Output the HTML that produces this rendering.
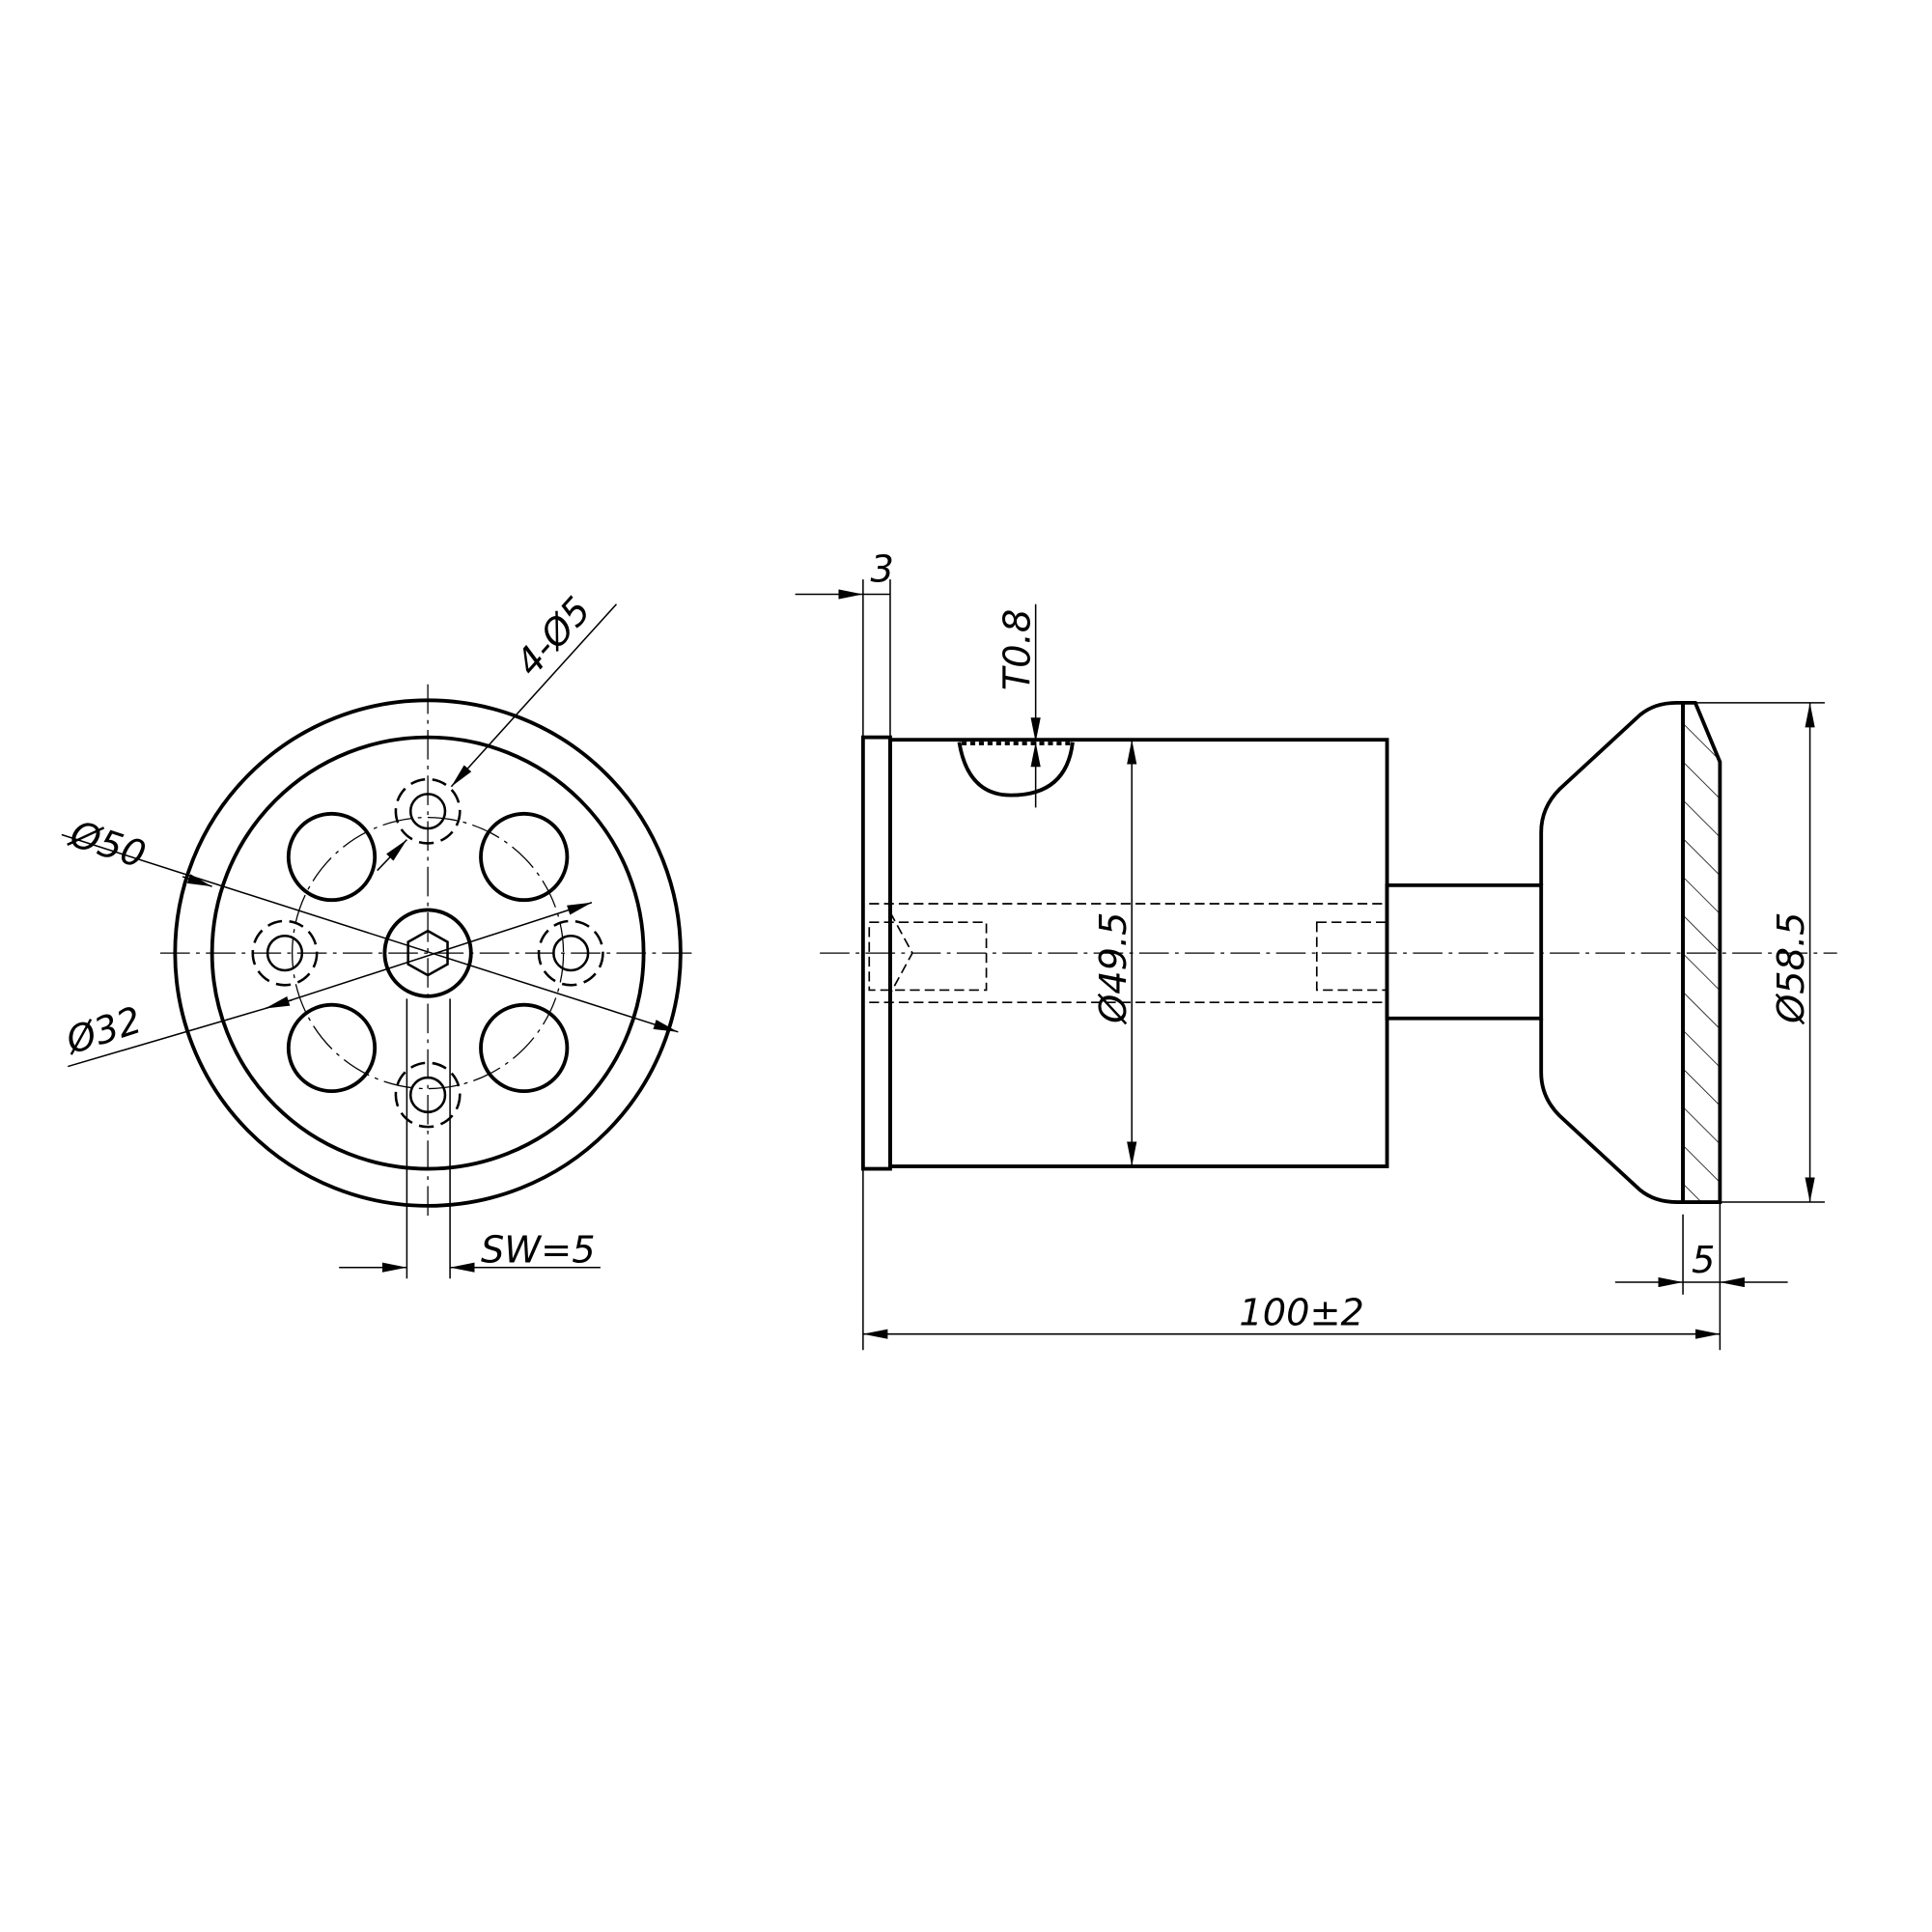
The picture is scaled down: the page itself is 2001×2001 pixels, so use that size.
<!DOCTYPE html>
<html><head><meta charset="utf-8"><style>
html,body{margin:0;padding:0;background:#fff;}
svg{display:block;}
text{font-family:"DejaVu Sans","Liberation Sans",sans-serif;font-style:italic;font-size:30px;fill:#000;}
</style></head><body>
<svg width="2001" height="2001" viewBox="0 0 1567 1567" xmlns="http://www.w3.org/2000/svg">
<defs>
<marker id="a" viewBox="0 0 20 8" refX="20" refY="4" markerWidth="20" markerHeight="8" orient="auto-start-reverse" markerUnits="userSpaceOnUse"><path d="M0,0L20,4L0,8z" fill="#000"/></marker>
<pattern id="h" width="22" height="22" patternUnits="userSpaceOnUse" patternTransform="rotate(-45)"><line x1="0" y1="0" x2="0" y2="22" stroke="#000" stroke-width="1.2"/></pattern>
</defs>
<g fill="none" stroke="#000">
<g stroke-width="1" stroke-dasharray="24,5,3,5">
<line x1="130" y1="773" x2="565" y2="773"/>
<line x1="347" y1="555" x2="347" y2="990"/>
<circle cx="347" cy="773" r="110"/>
</g>
<circle cx="347" cy="773" r="205" stroke-width="3"/>
<circle cx="347" cy="773" r="175" stroke-width="3"/>
<circle cx="347" cy="773" r="35" stroke-width="3"/>
<polygon points="347,755 363,764 363,782 347,791 331,782 331,764" stroke-width="2"/>
<g stroke-width="3">
<circle cx="269" cy="695" r="35"/><circle cx="425" cy="695" r="35"/>
<circle cx="269" cy="850" r="35"/><circle cx="425" cy="850" r="35"/>
</g>
<g stroke-width="2">
<circle cx="347" cy="658" r="14"/><circle cx="231" cy="773" r="14"/>
<circle cx="463" cy="773" r="14"/><circle cx="347" cy="888" r="14"/>
</g>
<g stroke-width="2" stroke-dasharray="12,6">
<circle cx="347" cy="658" r="26"/><circle cx="231" cy="773" r="26"/>
<circle cx="463" cy="773" r="26"/><circle cx="347" cy="888" r="26"/>
</g>
<g stroke-width="1.2">
<line x1="330" y1="810" x2="330" y2="1037"/>
<line x1="365" y1="810" x2="365" y2="1037"/>
<line x1="275" y1="1028" x2="330" y2="1028" marker-end="url(#a)"/>
<line x1="487" y1="1028" x2="365" y2="1028" marker-end="url(#a)"/>
<line x1="50" y1="677" x2="550" y2="837" marker-end="url(#a)"/>
<line x1="215" y1="818" x2="55" y2="865"/>
<line x1="215" y1="818" x2="480" y2="732" marker-end="url(#a)"/>
<line x1="215" y1="818" x2="237" y2="811" marker-start="url(#a)"/>
<line x1="148" y1="711" x2="172" y2="719" marker-end="url(#a)"/>
<line x1="500" y1="490" x2="366" y2="638" marker-end="url(#a)"/>
<line x1="306" y1="706" x2="330" y2="681" marker-end="url(#a)"/>
</g>
<line x1="665" y1="773" x2="1490" y2="773" stroke-width="1" stroke-dasharray="24,5,3,5"/>
<rect x="700" y="598" width="22" height="350" stroke-width="3"/>
<rect x="722" y="600" width="403" height="346" stroke-width="3"/>
<path d="M1125,718 H1250 V826 H1125 Z" stroke-width="3"/>
<path d="M1250,826 V870 Q1250,890 1265,905 L1330,965 Q1342,975 1360,975 H1365 V570 H1360 Q1342,570 1330,580 L1265,640 Q1250,655 1250,675 V718" stroke-width="3"/>
<path d="M1365,570 H1375 L1395,618 V975 H1365 Z" fill="url(#h)" stroke-width="3"/>
<path d="M778,602 Q785,645 820,645 Q865,645 870,602" stroke-width="3"/>
<line x1="780" y1="603" x2="870" y2="603" stroke-width="3" stroke-dasharray="4,3"/>
<g stroke-width="1.3" stroke-dasharray="8,4">
<line x1="705" y1="733" x2="1125" y2="733"/><line x1="705" y1="813" x2="1125" y2="813"/>
<rect x="705" y="748" width="95" height="55"/>
<rect x="1068" y="748" width="57" height="55"/>
<path d="M722,740 L740,773 L722,806"/>
</g>
<g stroke-width="1.2">
<line x1="700" y1="598" x2="700" y2="1095"/>
<line x1="722" y1="470" x2="722" y2="598"/>
<line x1="700" y1="470" x2="700" y2="598"/>
<line x1="645" y1="482" x2="700" y2="482" marker-end="url(#a)"/>
<line x1="700" y1="482" x2="722" y2="482"/>
<line x1="700" y1="1082" x2="1395" y2="1082" marker-start="url(#a)" marker-end="url(#a)"/>
<line x1="1395" y1="975" x2="1395" y2="1095"/>
<line x1="1365" y1="985" x2="1365" y2="1050"/>
<line x1="1310" y1="1040" x2="1365" y2="1040" marker-end="url(#a)"/>
<line x1="1450" y1="1040" x2="1395" y2="1040" marker-end="url(#a)"/>
<line x1="1365" y1="1040" x2="1395" y2="1040"/>
<line x1="918" y1="600" x2="918" y2="946" marker-start="url(#a)" marker-end="url(#a)"/>
<line x1="1375" y1="570" x2="1480" y2="570"/>
<line x1="1395" y1="975" x2="1480" y2="975"/>
<line x1="1468" y1="570" x2="1468" y2="975" marker-start="url(#a)" marker-end="url(#a)"/>
<line x1="840" y1="490" x2="840" y2="602" marker-end="url(#a)"/>
<line x1="840" y1="655" x2="840" y2="602" marker-end="url(#a)"/>
</g>
</g>
<text x="706" y="472">3</text>
<text transform="translate(835,560) rotate(-90)">T0.8</text>
<text transform="translate(913,830) rotate(-90)">Ø49.5</text>
<text transform="translate(1463,830) rotate(-90)">Ø58.5</text>
<text x="1005" y="1075">100±2</text>
<text x="1372" y="1032">5</text>
<text x="390" y="1024">SW=5</text>
<text transform="translate(55,685) rotate(18)">Ø50</text>
<text transform="translate(58,855) rotate(-18)">Ø32</text>
<text transform="translate(432,550) rotate(-48)">4-Ø5</text>
</svg>
</body></html>
